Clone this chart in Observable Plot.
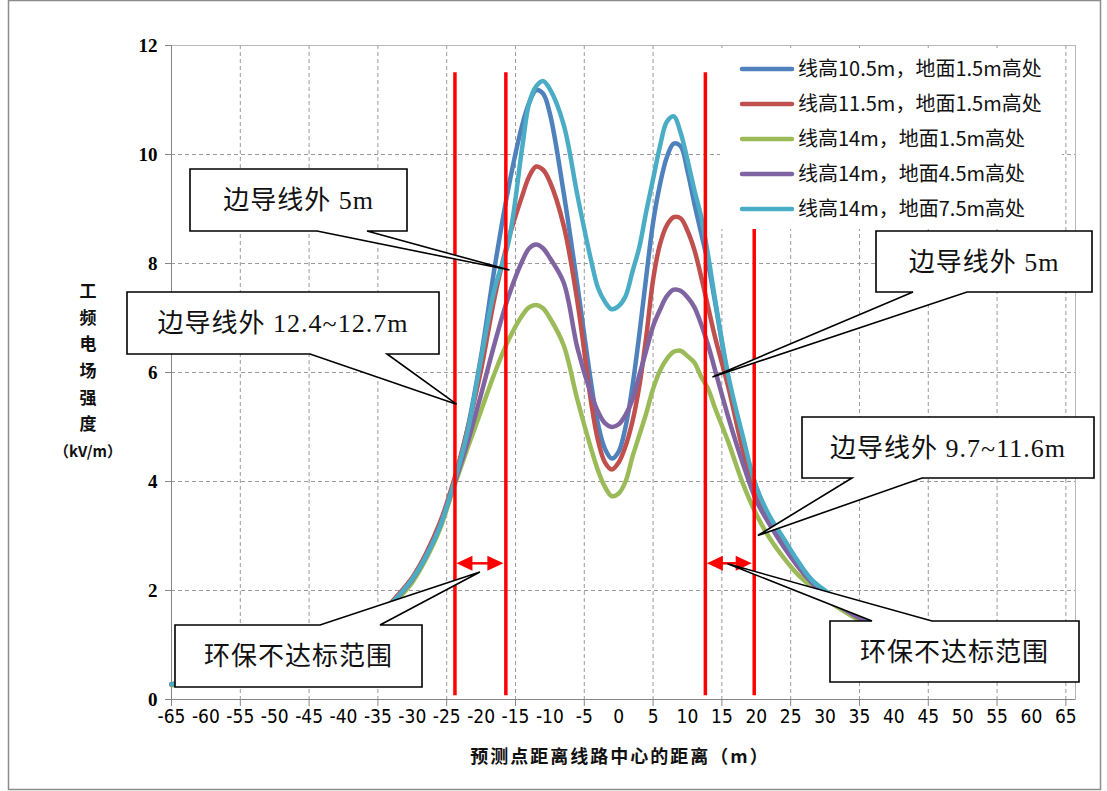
<!DOCTYPE html>
<html>
<head>
<meta charset="utf-8">
<script src="https://cdn.jsdelivr.net/npm/d3@7"></script>
<script src="https://cdn.jsdelivr.net/npm/@observablehq/plot@0.6"></script>
<style>
  body { margin: 0; background: #fff; }
  #chart { position: relative; width: 1107px; height: 791px; }
  #chart svg { position: absolute; left: 0; top: 0; }
</style>
</head>
<body>
<div id="chart"></div>
<script>
// Distance from the line centre (m)
const distance = [-65, -60, -55, -50, -45, -40, -36, -33, -30, -28, -26, -24, -22, -20, -18, -16, -14, -13, -12, -11,
  -10, -8, -6, -4, -3, -2, -1, 0, 1, 2, 3, 4, 5, 6, 7, 8, 9, 10, 11, 12,
  13, 14, 16, 18, 20, 22, 24, 26, 28, 30, 33, 36, 40, 45, 50, 55, 60, 65];

// Power-frequency electric field strength (kV/m)
const h105_g15 = [0.27, 0.34, 0.44, 0.57, 0.76, 1.03, 1.38, 1.77, 2.21, 2.64, 3.18, 3.95, 4.95, 6.30, 7.95, 9.40, 10.55, 10.95, 11.18, 11.12,
  10.75, 9.30, 7.60, 5.80, 5.05, 4.60, 4.42, 4.55, 5.00, 5.75, 6.70, 7.75, 8.75, 9.45, 9.95, 10.20, 10.15, 9.70, 9.10, 8.55,
  8.00, 7.30, 5.85, 4.75, 3.90, 3.30, 2.90, 2.52, 2.20, 1.96, 1.68, 1.46, 1.20, 0.95, 0.75, 0.60, 0.48, 0.38];
const h115_g15 = [0.28, 0.35, 0.45, 0.59, 0.78, 1.06, 1.40, 1.79, 2.24, 2.68, 3.24, 4.00, 4.95, 6.05, 7.40, 8.45, 9.25, 9.60, 9.78, 9.72,
  9.50, 8.70, 7.30, 5.45, 4.75, 4.35, 4.22, 4.35, 4.65, 5.10, 5.75, 6.65, 7.70, 8.35, 8.70, 8.85, 8.83, 8.60, 8.25, 7.75,
  7.20, 6.65, 5.70, 4.60, 3.75, 3.22, 2.82, 2.45, 2.15, 1.92, 1.66, 1.44, 1.20, 0.95, 0.75, 0.60, 0.48, 0.38];
const h14_g15 = [0.26, 0.33, 0.43, 0.56, 0.74, 1.00, 1.34, 1.72, 2.15, 2.58, 3.12, 3.88, 4.60, 5.30, 6.00, 6.60, 7.05, 7.20, 7.24, 7.18,
  7.00, 6.50, 5.50, 4.60, 4.20, 3.90, 3.73, 3.78, 4.00, 4.45, 4.85, 5.25, 5.70, 6.03, 6.25, 6.38, 6.40, 6.30, 6.18, 5.92,
  5.70, 5.35, 4.70, 3.98, 3.40, 2.95, 2.60, 2.30, 2.07, 1.85, 1.60, 1.38, 1.15, 0.92, 0.72, 0.57, 0.45, 0.36];
const h14_g45 = [0.28, 0.35, 0.45, 0.58, 0.77, 1.04, 1.38, 1.76, 2.20, 2.63, 3.18, 3.92, 4.70, 5.60, 6.55, 7.40, 8.05, 8.28, 8.35, 8.28,
  8.10, 7.65, 6.45, 5.60, 5.28, 5.07, 5.00, 5.05, 5.22, 5.50, 5.95, 6.40, 6.85, 7.15, 7.40, 7.52, 7.50, 7.38, 7.20, 6.88,
  6.50, 6.05, 5.15, 4.35, 3.65, 3.20, 2.80, 2.45, 2.15, 1.90, 1.64, 1.42, 1.18, 0.94, 0.74, 0.59, 0.47, 0.37];
const h14_g75 = [0.28, 0.35, 0.45, 0.58, 0.77, 1.04, 1.38, 1.76, 2.21, 2.63, 3.17, 3.95, 4.90, 6.25, 7.55, 8.40, 10.15, 10.95, 11.25, 11.35,
  11.20, 10.55, 9.25, 8.05, 7.55, 7.30, 7.16, 7.22, 7.40, 7.85, 8.30, 8.95, 9.55, 10.15, 10.60, 10.70, 10.40, 9.90, 9.35, 8.85,
  8.15, 7.35, 5.90, 4.85, 3.90, 3.35, 2.95, 2.55, 2.20, 2.00, 1.72, 1.50, 1.22, 0.97, 0.77, 0.62, 0.50, 0.40];

const seriesNames = [
  "线高10.5m，地面1.5m高处",
  "线高11.5m，地面1.5m高处",
  "线高14m，地面1.5m高处",
  "线高14m，地面4.5m高处",
  "线高14m，地面7.5m高处"
];
const seriesValues = [h105_g15, h115_g15, h14_g15, h14_g45, h14_g75];
const seriesColors = ["#4F81BD", "#C0504D", "#9BBB59", "#8064A2", "#4BACC6"];

// Axis ticks
const yTicks = [0, 2, 4, 6, 8, 10, 12];
const xTickLabels = d3.range(-65, 66, 5);
const xTickMarks = d3.range(-65, 66, 10);
const xGrid = d3.range(-55, 66, 10);
const yGrid = [2, 4, 6, 8, 10, 12];

// Boundary lines (m) and the out-of-limit ranges between them
const boundaryX = [-23.8, -16.4, 12.6, 19.7];
const rangePairs = [[-23.8, -16.4], [12.6, 19.7]];
const rangeLevel = [2.49, 2.49];

// Callout notes and the points they refer to
const noteText = ["边导线外 5m", "边导线外 12.4~12.7m", "边导线外 5m", "边导线外 9.7~11.6m", "环保不达标范围", "环保不达标范围"];
const noteTipX = [-15.8, -23.5, 13.7, 20.3, -20.1, 15.9];
const noteTipY = [7.87, 5.41, 5.91, 3.0, 2.33, 2.48];

const rows = seriesNames.flatMap((name, i) =>
  distance.map((x, j) => ({x, v: seriesValues[i][j], name})));

const gridStyle = {stroke: "#9a9a9a", strokeDasharray: "4,3", strokeWidth: 1};
const narrowFont = "'Liberation Sans Narrow', 'DejaVu Sans Condensed', 'Liberation Sans', sans-serif";

const chart = Plot.plot({
  width: 1107,
  height: 791,
  marginLeft: 171,
  marginRight: 32,
  marginTop: 45,
  marginBottom: 92,
  style: {fontFamily: "'Noto Sans CJK SC', sans-serif", background: "white", overflow: "visible"},
  x: {domain: [-65, 66.4]},
  y: {domain: [0, 12]},
  color: {domain: seriesNames, range: seriesColors},
  marks: [
    Plot.ruleY(yGrid, gridStyle),
    Plot.ruleX(xGrid, gridStyle),
    Plot.frame({stroke: "#b8b8b8"}),
    Plot.ruleX([-65], {stroke: "#868686"}),
    Plot.ruleY([0], {stroke: "#868686"}),
    Plot.axisY({ticks: yTicks, tickSize: 6, tickPadding: 8, label: null, stroke: "#868686", fill: "black",
      fontSize: 19, fontWeight: "bold", fontFamily: "'Liberation Serif', serif", tickFormat: d => String(d)}),
    Plot.axisX({ticks: xTickMarks, tickSize: 7, label: null, stroke: "#868686", tickFormat: () => ""}),
    Plot.axisX({ticks: xTickLabels, tickSize: 0, tickPadding: 10, label: null, fill: "black",
      fontSize: 19, fontFamily: narrowFont, tickFormat: d => String(d)}),
    Plot.line(rows, {x: "x", y: "v", z: "name", stroke: "name", strokeWidth: 4.5,
      curve: "catmull-rom", strokeLinejoin: "round", strokeLinecap: "round"}),
    Plot.ruleX(boundaryX, {y1: 0.07, y2: 11.5, stroke: "#ff0000", strokeWidth: 3.5})
  ]
});

document.getElementById("chart").appendChild(chart);

const sx = chart.scale("x").apply;
const sy = chart.scale("y").apply;
const svg = d3.select(chart);

// Double-headed arrows spanning the out-of-limit ranges
const arrows = svg.append("g").attr("fill", "#ff0000").attr("stroke", "#ff0000");
rangePairs.forEach(([a, b], i) => {
  const xa = sx(a) + 2, xb = sx(b) - 2, y = sy(rangeLevel[i]);
  const head = 16, half = 7.5;
  arrows.append("line").attr("x1", xa + head - 2).attr("x2", xb - head + 2)
    .attr("y1", y).attr("y2", y).attr("stroke-width", 2.5);
  arrows.append("path").attr("stroke", "none")
    .attr("d", `M${xa},${y}L${xa + head},${y - half}L${xa + head},${y + half}Z`);
  arrows.append("path").attr("stroke", "none")
    .attr("d", `M${xb},${y}L${xb - head},${y - half}L${xb - head},${y + half}Z`);
});

// Legend
const legendBox = {x: 720, y: 48, w: 342, h: 181};
const legend = svg.append("g").attr("text-anchor", "start");
legend.append("rect").attr("x", legendBox.x).attr("y", legendBox.y)
  .attr("width", legendBox.w).attr("height", legendBox.h).attr("fill", "white");
seriesNames.forEach((name, i) => {
  const y = 69 + i * 35;
  legend.append("line").attr("x1", 742).attr("x2", 792).attr("y1", y).attr("y2", y)
    .attr("stroke", seriesColors[i]).attr("stroke-width", 4.5).attr("stroke-linecap", "round");
  legend.append("text").attr("x", 798).attr("y", y).attr("dy", "0.36em")
    .attr("text-anchor", "start")
    .attr("font-size", 20).attr("font-family", "'Noto Sans CJK SC', sans-serif")
    .attr("fill", "#111").text(name);
});

// Callout boxes: [left, top, right, bottom, wedge side, wedge base start, wedge base end]
const noteBoxes = [
  [190, 169, 407, 231, "bottom", 317, 367],
  [127, 292, 439, 354, "bottom", 310, 387],
  [876, 231, 1092, 292, "bottom", 913, 967],
  [802, 417, 1094, 478, "bottom", 852, 922],
  [175, 625, 422, 687, "top", 320, 380],
  [830, 621, 1079, 682, "top", 872, 932]
];
const notes = svg.append("g");
noteBoxes.forEach(([x0, y0, x1, y1, side, b1, b2], i) => {
  const tx = sx(noteTipX[i]), ty = sy(noteTipY[i]);
  const d = side === "bottom"
    ? `M${x0},${y0}H${x1}V${y1}H${b2}L${tx},${ty}L${b1},${y1}H${x0}Z`
    : `M${x0},${y0}H${b1}L${tx},${ty}L${b2},${y0}H${x1}V${y1}H${x0}Z`;
  notes.append("path").attr("d", d).attr("fill", "white").attr("stroke", "black").attr("stroke-width", 1.6);
  notes.append("text").attr("x", (x0 + x1) / 2).attr("y", (y0 + y1) / 2).attr("dy", "0.36em")
    .attr("text-anchor", "middle").attr("font-size", 26).attr("letter-spacing", 1)
    .attr("font-family", "'Liberation Serif', 'Noto Sans CJK SC', serif")
    .attr("fill", "#111").text(noteText[i]);
});

// Axis titles
const yTitleChars = ["工", "频", "电", "场", "强", "度"];
const titles = svg.append("g").attr("font-family", "'Noto Sans CJK SC', sans-serif")
  .attr("font-weight", "bold").attr("text-anchor", "middle").attr("fill", "#111");
yTitleChars.forEach((c, i) => {
  titles.append("text").attr("x", 88).attr("y", 291 + i * 26.6).attr("dy", "0.36em")
    .attr("font-size", 17).text(c);
});
titles.append("text").attr("x", 88).attr("y", 452).attr("dy", "0.36em")
  .attr("font-size", 15).text("（kV/m）");
titles.append("text").attr("x", 620).attr("y", 757).attr("dy", "0.36em")
  .attr("font-size", 18).attr("letter-spacing", 2).text("预测点距离线路中心的距离（m）");

// Chart area border
svg.append("rect").attr("x", 8.5).attr("y", 0.5).attr("width", 1092).attr("height", 789)
  .attr("fill", "none").attr("stroke", "#8c8c8c").attr("stroke-width", 1.5);
</script>
</body>
</html>
